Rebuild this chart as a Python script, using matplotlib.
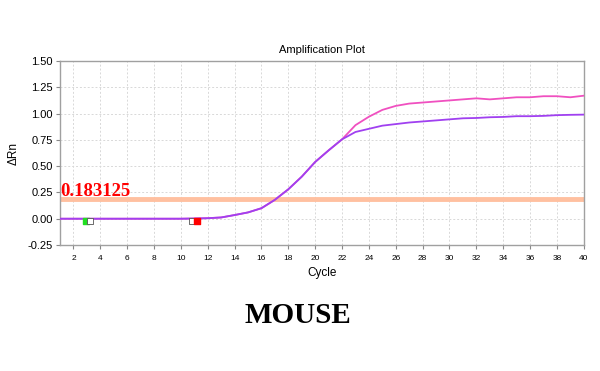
import matplotlib
matplotlib.use("Agg")
import matplotlib.pyplot as plt
import numpy as np

cycles = list(range(1, 41))
pink = [0, 0, 0, 0, 0, 0, 0, 0, 0, 0, 0.002, 0.005, 0.012, 0.035, 0.06, 0.10, 0.18, 0.28, 0.40, 0.54, 0.65, 0.755,
        0.89, 0.97, 1.035, 1.073, 1.095, 1.105, 1.115, 1.125, 1.135, 1.145, 1.135, 1.145, 1.155, 1.155, 1.165, 1.165, 1.155, 1.17]
purple = [0, 0, 0, 0, 0, 0, 0, 0, 0, 0, 0.002, 0.005, 0.012, 0.035, 0.06, 0.10, 0.18, 0.28, 0.40, 0.54, 0.65, 0.755,
          0.825, 0.855, 0.885, 0.90, 0.915, 0.925, 0.935, 0.945, 0.955, 0.958, 0.965, 0.968, 0.975, 0.975, 0.978, 0.985, 0.988, 0.99]
threshold = 0.183125
xticks = list(range(2, 41, 2))
yticks = [-0.25, 0.0, 0.25, 0.5, 0.75, 1.0, 1.25, 1.5]

plt.rcParams['font.family'] = ['Liberation Sans', 'DejaVu Sans']
fig = plt.figure(figsize=(6, 3.71), dpi=100)
ax = fig.add_axes([0.1, 0.3396, 0.873, 0.496])

ax.axhline(threshold, color='#ffc0a0', lw=3.5, zorder=2)
ax.plot(cycles, pink, color='#f050c0', lw=1.3, zorder=3)
ax.plot(cycles, purple, color='#a040f0', lw=1.3, zorder=4)

# baseline markers
ax.scatter([2.9], [-0.02], marker='s', s=16, color='#20e020', zorder=5)
ax.scatter([3.25], [-0.02], marker='s', s=16, facecolor='white', edgecolor='#555555', lw=0.6, zorder=5)
ax.scatter([10.85], [-0.02], marker='s', s=16, facecolor='white', edgecolor='#555555', lw=0.6, zorder=5)
ax.scatter([11.2], [-0.02], marker='s', s=16, color='#ff0000', zorder=5)

ax.text(1.05, threshold - 0.005, '0.183125', color='red', fontsize=13.5, fontweight='bold',
        family=['Liberation Serif', 'DejaVu Serif'], va='bottom', ha='left', zorder=6)

ax.set_xlim(1, 40)
ax.set_ylim(-0.25, 1.5)
ax.set_xticks(xticks)
ax.set_yticks(yticks)
ax.set_yticklabels([f'{v:.2f}' for v in yticks])
ax.tick_params(axis='x', labelsize=6, length=3, color='#888888', pad=4)
ax.tick_params(axis='y', labelsize=8, length=3, color='#888888', pad=2)
ax.grid(True, ls=(0, (2, 2)), color='#d8d8d8', lw=0.7)
for s in ax.spines.values():
    s.set_color('#a0a0a0')
    s.set_linewidth(1.0)

ax.set_title('Amplification Plot', fontsize=8, pad=6)
ax.set_xlabel('Cycle', fontsize=8.5, labelpad=4)
ax.set_ylabel('ΔRn', fontsize=8.5, labelpad=6)

fig.text(0.497, 0.15, 'MOUSE', ha='center', va='center', fontsize=21, fontweight='bold',
         family=['Liberation Serif', 'DejaVu Serif'])

fig.savefig('out.png', dpi=100)
